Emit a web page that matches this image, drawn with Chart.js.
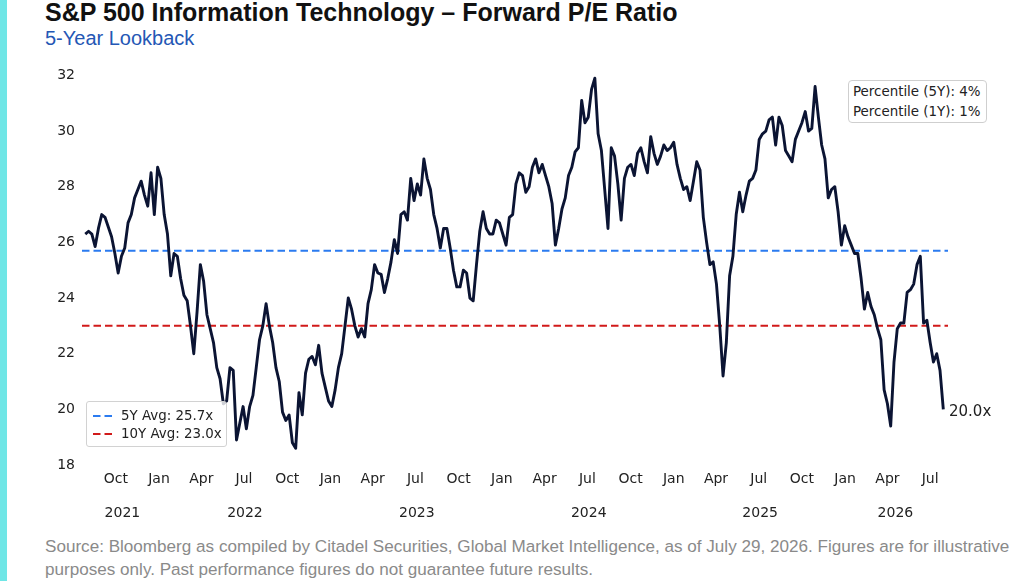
<!DOCTYPE html>
<html>
<head>
<meta charset="utf-8">
<script src="https://cdn.jsdelivr.net/npm/chart.js@4.4.1/dist/chart.umd.min.js"></script>
<style>
  html, body { margin: 0; padding: 0; background: #fff; }
  body { width: 1024px; height: 581px; position: relative; overflow: hidden; }
  #edge { position: absolute; left: 0; top: 0; width: 7px; height: 581px; background: #6fe6e6; }
  #title { position: absolute; left: 45px; top: 0; font: bold 25px/25px "Liberation Sans", Arial, sans-serif; color: #111; white-space: nowrap; }
  #subtitle { position: absolute; left: 45px; top: 28px; font: 20px/20px "Liberation Sans", Arial, sans-serif; color: #2457b5; white-space: nowrap; }
  #chartbox { position: absolute; left: 0; top: 60px; width: 1024px; height: 470px; }
  #legend { position: absolute; left: 86px; top: 401px; width: 141px; height: 46px; box-sizing: border-box;
            background: rgba(255,255,255,0.8); border: 1px solid #d2d2d2; border-radius: 3px;
            font: 13.4px/18px "DejaVu Sans", sans-serif; color: #222; padding-top: 5px; }
  #legend .row { height: 18px; white-space: nowrap; }
  #legend svg { vertical-align: middle; margin: 0 7px 0 6px; }
  #pctbox { position: absolute; left: 848px; top: 80px; width: 139px; height: 43px; box-sizing: border-box;
            background: #fff; border: 1px solid #cfcfcf; border-radius: 4px;
            font: 13.4px/20px "DejaVu Sans", sans-serif; color: #222; padding: 1px 0 0 4px; white-space: nowrap; }
  #lastlabel { position: absolute; left: 949px; top: 402px; font: 15px/18px "DejaVu Sans", sans-serif; color: #222; }
  #footer { position: absolute; left: 45px; top: 535px; font: 17.1px/23px "Liberation Sans", Arial, sans-serif; color: #8a8a8a; white-space: nowrap; }
</style>
</head>
<body>
<div id="edge"></div>
<div id="title">S&amp;P 500 Information Technology – Forward P/E Ratio</div>
<div id="subtitle">5-Year Lookback</div>
<div id="chartbox"><canvas id="myChart" width="1024" height="470"></canvas></div>
<div id="legend"></div>
<div id="pctbox"></div>
<div id="lastlabel"></div>
<div id="footer">Source: Bloomberg as compiled by Citadel Securities, Global Market Intelligence, as of July 29, 2026. Figures are for illustrative<br>purposes only. Past performance figures do not guarantee future results.</div>

<script>
// weekly forward P/E, last point is the as-of date
const endDate = '2026-07-29'
const peValues = [
    26.3, 26.4, 26.3, 25.85, 26.5, 27.0, 26.9, 26.55, 26.2, 25.6,
    24.9, 25.5, 25.8, 26.7, 27.0, 27.6, 27.9, 28.2, 27.7, 27.3,
    28.5, 27.0, 28.7, 28.3, 27.0, 26.3, 24.8, 25.6, 25.5, 24.7,
    24.1, 23.9, 23.0, 22.0, 23.5, 25.2, 24.6, 23.4, 22.9, 22.4,
    21.5, 21.1, 20.2, 20.3, 21.5, 21.4, 18.9, 19.5, 20.1, 19.3,
    20.1, 20.5, 21.5, 22.5, 23.0, 23.8, 23.0, 22.4, 21.5, 21.0,
    19.9, 19.6, 19.8, 18.8, 18.6, 20.6, 19.8, 21.3, 21.8, 21.9,
    21.6, 22.3, 21.3, 20.8, 20.3, 20.1, 20.7, 21.5, 22.0, 23.0,
    24.0, 23.6, 23.0, 22.6, 22.9, 22.6, 23.8, 24.3, 25.2, 24.9,
    24.85, 24.2, 24.7, 25.3, 26.1, 25.6, 27.0, 27.1, 26.8, 28.3,
    27.5, 28.1, 27.7, 29.0, 28.3, 27.9, 27.0, 26.5, 25.8, 26.5,
    26.5, 25.8, 25.0, 24.4, 24.4, 25.0, 24.9, 24.0, 23.9, 25.2,
    26.4, 27.1, 26.5, 26.3, 26.3, 26.8, 26.7, 26.3, 25.9, 26.9,
    27.0, 28.1, 28.5, 28.4, 27.8, 28.0, 28.7, 29.0, 28.5, 28.8,
    28.4, 28.0, 27.4, 25.9, 26.5, 27.2, 27.6, 28.4, 28.7, 29.25,
    29.4, 31.1, 30.3, 30.5, 31.5, 31.9, 29.9, 29.3, 27.9, 26.5,
    29.4, 29.1, 28.1, 26.8, 28.3, 28.7, 28.8, 28.4, 29.2, 29.4,
    28.9, 28.5, 29.8, 29.2, 28.8, 29.1, 29.5, 29.3, 29.4, 29.6,
    28.8, 28.3, 27.9, 28.0, 27.5, 28.2, 28.9, 28.6, 26.9, 26.0,
    25.2, 25.3, 24.5, 23.0, 21.2, 22.4, 24.8, 25.5, 27.0, 27.8,
    27.1, 27.7, 28.2, 28.3, 28.6, 29.7, 29.9, 30.0, 30.4, 30.5,
    29.5, 30.5, 30.2, 29.3, 29.1, 28.9, 29.7, 30.0, 30.3, 30.7,
    30.0, 30.1, 31.6, 30.5, 29.5, 29.0, 27.6, 27.9, 28.0, 27.1,
    25.9, 26.6, 26.2, 25.9, 25.6, 25.6, 24.7, 23.6, 24.2, 23.7,
    23.4, 22.9, 22.5, 20.7, 20.2, 19.4, 21.7, 22.9, 23.1, 23.1,
    24.2, 24.3, 24.5, 25.2, 25.5, 23.1, 23.2, 22.4, 21.7, 22.0,
    21.4, 20.0
]
const avg5Y = 25.7
const avg10Y = 23.0
const pct5Y = 4
const pct1Y = 1

const monthTickDates = [
    '2021-10-01', '2022-01-01', '2022-04-01', '2022-07-01', '2022-10-01',
    '2023-01-01', '2023-04-01', '2023-07-01', '2023-10-01',
    '2024-01-01', '2024-04-01', '2024-07-01', '2024-10-01',
    '2025-01-01', '2025-04-01', '2025-07-01', '2025-10-01',
    '2026-01-01', '2026-04-01', '2026-07-01'
]
const monthTickLabels = [
    'Oct', 'Jan', 'Apr', 'Jul', 'Oct',
    'Jan', 'Apr', 'Jul', 'Oct',
    'Jan', 'Apr', 'Jul', 'Oct',
    'Jan', 'Apr', 'Jul', 'Oct',
    'Jan', 'Apr', 'Jul'
]
// year captions sit in the middle of each year's visible span
const yearTickDates = ['2021-10-15', '2022-07-03', '2023-07-04', '2024-07-04', '2025-07-04', '2026-04-18']
const yearTickLabels = ['2021', '2022', '2023', '2024', '2025', '2026']
const yTicks = [18, 20, 22, 24, 26, 28, 30, 32]

const DAY = 86400000
const dayNum = s => Date.parse(s + 'T00:00:00Z') / DAY
const endDay = dayNum(endDate)
const xMin = dayNum('2021-07-21')
const xMax = dayNum('2026-08-08')

const peSeries = peValues.map((v, i) => ({ x: endDay - 7 * (peValues.length - 1 - i), y: v }))
const flat = v => [{ x: xMin, y: v }, { x: xMax, y: v }]

const tickFont = { family: 'DejaVu Sans', size: 14 }

function fixedTicks(dates) {
    return scale => { scale.ticks = dates.map(d => ({ value: dayNum(d) })) }
}
function labelFor(dates, labels) {
    return value => {
        const i = dates.findIndex(d => Math.abs(dayNum(d) - value) < 0.5)
        return i >= 0 ? labels[i] : ''
    }
}

const ctx = document.getElementById('myChart')
new Chart(ctx, {
    type: 'line',
    data: {
        datasets: [
            {
                label: 'Forward P/E',
                data: peSeries,
                borderColor: '#0b1433',
                borderWidth: 2.9,
                pointRadius: 0,
                tension: 0,
                borderJoinStyle: 'round',
                clip: false
            },
            {
                label: '5Y Avg: ' + avg5Y.toFixed(1) + 'x',
                data: flat(avg5Y),
                borderColor: '#2b7bf0',
                borderWidth: 2,
                borderDash: [7.5, 4],
                pointRadius: 0
            },
            {
                label: '10Y Avg: ' + avg10Y.toFixed(1) + 'x',
                data: flat(avg10Y),
                borderColor: '#d11a1a',
                borderWidth: 2,
                borderDash: [7.5, 4],
                pointRadius: 0
            }
        ]
    },
    options: {
        responsive: false,
        animation: false,
        layout: { padding: { left: 0, right: 76, top: 12, bottom: 0 } },
        plugins: {
            legend: { display: false },
            tooltip: { enabled: false }
        },
        scales: {
            x: {
                type: 'linear',
                position: 'bottom',
                weight: 0,
                min: xMin,
                max: xMax,
                grid: { display: false, drawTicks: false },
                border: { display: false },
                afterBuildTicks: fixedTicks(monthTickDates),
                afterFit: s => { s.height = 31 },
                ticks: {
                    autoSkip: false,
                    maxRotation: 0,
                    minRotation: 0,
                    padding: 6,
                    color: '#222',
                    font: tickFont,
                    callback: labelFor(monthTickDates, monthTickLabels)
                }
            },
            x2: {
                type: 'linear',
                position: 'bottom',
                weight: 1,
                min: xMin,
                max: xMax,
                grid: { display: false, drawTicks: false },
                border: { display: false },
                afterBuildTicks: fixedTicks(yearTickDates),
                afterFit: s => { s.height = 34 },
                ticks: {
                    autoSkip: false,
                    maxRotation: 0,
                    minRotation: 0,
                    padding: 9,
                    color: '#222',
                    font: tickFont,
                    callback: labelFor(yearTickDates, yearTickLabels)
                }
            },
            y: {
                min: 18,
                max: 32,
                grid: { display: false, drawTicks: false },
                border: { display: false },
                afterBuildTicks: s => { s.ticks = yTicks.map(v => ({ value: v })) },
                afterFit: s => { s.width = 82 },
                ticks: { padding: 7, color: '#222', font: tickFont }
            }
        }
    }
})

// legend box and notes as page text
const dashes = { '5Y': '#2b7bf0', '10Y': '#d11a1a' }
const legendRows = [
    ['5Y Avg: ' + avg5Y.toFixed(1) + 'x', dashes['5Y']],
    ['10Y Avg: ' + avg10Y.toFixed(1) + 'x', dashes['10Y']]
]
document.querySelector('#legend').innerHTML = legendRows.map(r =>
    '<div class="row"><svg width="21" height="4"><line x1="0" y1="2" x2="21" y2="2" stroke="' + r[1] +
    '" stroke-width="2" stroke-dasharray="7.5,4"/></svg>' + r[0] + '</div>').join('')
document.querySelector('#pctbox').innerHTML =
    'Percentile (5Y): ' + pct5Y + '%<br>Percentile (1Y): ' + pct1Y + '%'
document.querySelector('#lastlabel').textContent = peValues[peValues.length - 1].toFixed(1) + 'x'
</script>
</body>
</html>
